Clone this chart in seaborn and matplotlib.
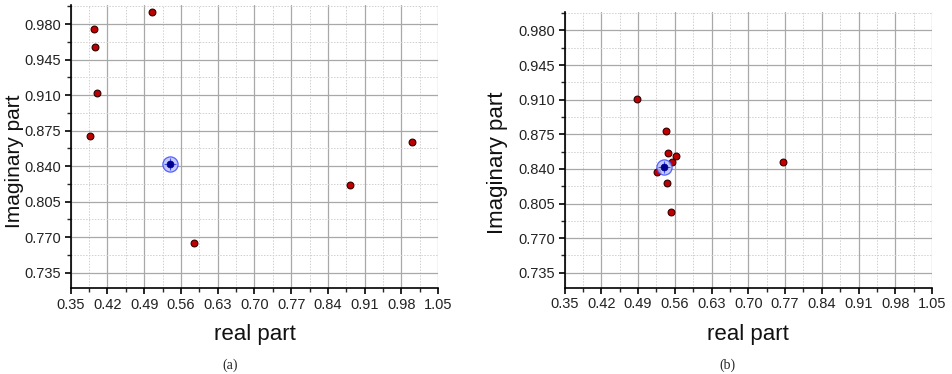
import matplotlib
matplotlib.use("Agg")
import matplotlib.pyplot as plt
import seaborn as sns
import pandas as pd
from matplotlib.ticker import MultipleLocator, FormatStrFormatter

sns.set_style("white")
plt.rcParams['font.family'] = ['Liberation Sans', 'DejaVu Sans']

# panel (a) particle positions
a_real = [0.5055, 0.3944, 0.3963, 0.4001, 0.3874, 1.001, 0.8818, 0.5855]
a_imag = [0.992, 0.975, 0.9576, 0.912, 0.8695, 0.8642, 0.8214, 0.7645]
a_best_real = [0.5391]
a_best_imag = [0.8422]

# panel (b) particle positions
b_real = [0.4872, 0.5437, 0.5462, 0.5621, 0.5545, 0.5253, 0.5456, 0.5532, 0.7654]
b_imag = [0.9102, 0.8786, 0.8562, 0.8535, 0.8468, 0.8367, 0.8256, 0.7964, 0.8471]
b_best_real = [0.5386]
b_best_imag = [0.8424]

x_ticks = [0.35, 0.42, 0.49, 0.56, 0.63, 0.70, 0.77, 0.84, 0.91, 0.98, 1.05]
y_ticks = [0.735, 0.770, 0.805, 0.840, 0.875, 0.910, 0.945, 0.980]
panel_labels = ["(a)", "(b)"]

fig = plt.figure(figsize=(9.52, 3.74), dpi=100)
ax1 = fig.add_axes([0.0743, 0.230, 0.386, 0.757])
ax2 = fig.add_axes([0.593, 0.231, 0.386, 0.738])

panels = [
    (ax1, a_real, a_imag, a_best_real, a_best_imag, -0.128, 0.449, 15),
    (ax2, b_real, b_imag, b_best_real, b_best_imag, -0.155, 0.452, 16),
]

for i, (ax, xr, yi, bx, by, ylab_x, ylab_y, ylab_fs) in enumerate(panels):
    df = pd.DataFrame({"real": xr, "imag": yi})
    dfb = pd.DataFrame({"real": bx, "imag": by})
    ax.set_xlim(0.35, 1.05)
    ax.set_ylim(0.72, 0.999)
    ax.xaxis.set_minor_locator(MultipleLocator(0.035))
    ax.yaxis.set_minor_locator(MultipleLocator(0.0175))
    ax.set_xticks(x_ticks)
    ax.set_yticks(y_ticks)
    ax.xaxis.set_major_formatter(FormatStrFormatter('%.2f'))
    ax.yaxis.set_major_formatter(FormatStrFormatter('%.3f'))
    ax.grid(which='major', color='#a8a8a8', linewidth=0.9, linestyle='-')
    ax.grid(which='minor', color='#d0d0d0', linewidth=0.7, linestyle=(0, (1.5, 1.5)))
    ax.set_axisbelow(True)
    for s in ['top', 'right']:
        ax.spines[s].set_visible(False)
    for s in ['left', 'bottom']:
        ax.spines[s].set_color('black')
        ax.spines[s].set_linewidth(1.2)
    ax.tick_params(which='major', direction='out', length=4.5, width=1.2, pad=2.5,
                   labelsize=10.5, left=True, bottom=True, colors='black',
                   labelcolor='#222222')
    ax.tick_params(which='minor', direction='out', length=3, width=1.0,
                   left=True, bottom=True)

    sns.scatterplot(data=df, x="real", y="imag", ax=ax, s=24,
                    color='#c00000', edgecolor='#300000', linewidth=0.8, zorder=3)
    sns.scatterplot(data=dfb, x="real", y="imag", ax=ax, s=120,
                    color='#b8c0ff', edgecolor='#3040ff', linewidth=0.9,
                    alpha=0.8, zorder=4)
    sns.scatterplot(data=dfb, x="real", y="imag", ax=ax, s=70, marker='+',
                    color='#4050ff', linewidth=0.8, zorder=5)
    sns.scatterplot(data=dfb, x="real", y="imag", ax=ax, s=25,
                    color='#000090', edgecolor='#000090', linewidth=0.5, zorder=6)

    ax.set_xlabel("real part", fontsize=16, labelpad=9, color='#111111')
    ax.set_ylabel("Imaginary part", fontsize=ylab_fs, color='#111111')
    ax.yaxis.set_label_coords(ylab_x, ylab_y)

fig.text(0.2415, 0.024, panel_labels[0], ha='center', va='center',
         fontsize=10, family=['Liberation Serif', 'DejaVu Serif'])
fig.text(0.764, 0.024, panel_labels[1], ha='center', va='center',
         fontsize=10, family=['Liberation Serif', 'DejaVu Serif'])

fig.savefig("out.png", dpi=100)
